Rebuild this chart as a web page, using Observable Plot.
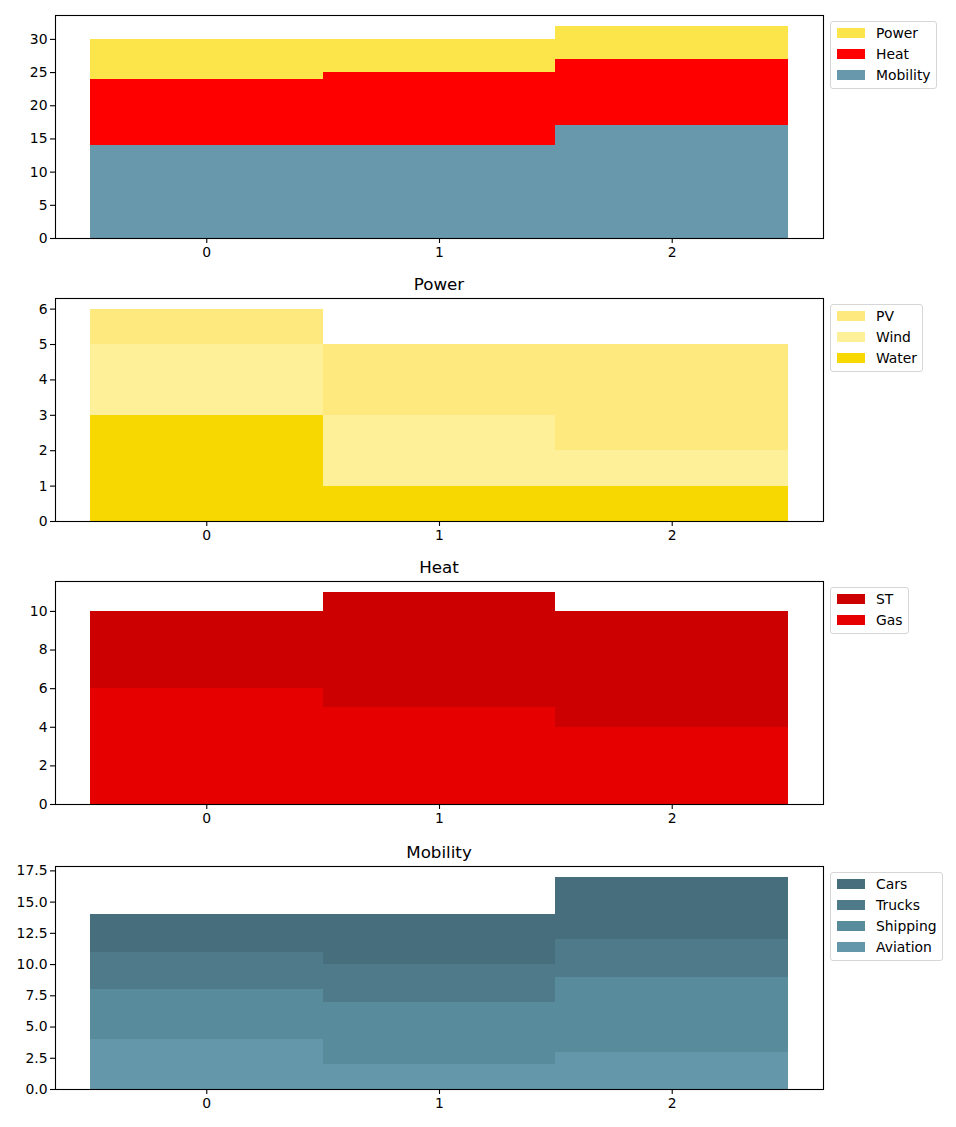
<!DOCTYPE html>
<html><head><meta charset="utf-8">
<script src="https://cdn.jsdelivr.net/npm/d3@7"></script>
<script src="https://cdn.jsdelivr.net/npm/@observablehq/plot@0.6"></script>
<style>
body{margin:0;background:#fff;font-family:"DejaVu Sans",sans-serif;}
#root{position:relative;width:956px;height:1127px;}
#root svg{position:absolute;left:0;}
.title{position:absolute;left:55px;width:768px;text-align:center;font-size:16.7px;line-height:17px;color:#000;}
.legend{position:absolute;left:830px;border:1px solid #d6d6d6;border-radius:3px;padding:0 5px 3px 6px;font-size:13.9px;background:rgba(255,255,255,0.8);color:#000;}
.row{height:21px;display:flex;align-items:center;white-space:nowrap;}
.sw{width:28px;height:10px;margin-right:11px;flex:none;}
</style></head><body><div id="root"></div>
<script>
// categories (x positions)
const categories = [0, 1, 2];

// Overview panel
const overviewSeries = ["Mobility", "Heat", "Power"];
const overviewColors = ["#6798ab", "#ff0000", "#fce54b"];
const overviewMobility = [14, 14, 17];
const overviewHeat = [10, 11, 10];
const overviewPower = [6, 5, 5];
const overviewTicks = [0, 5, 10, 15, 20, 25, 30];

// Power panel
const powerSeries = ["Water", "Wind", "PV"];
const powerColors = ["#f7d800", "#feef99", "#fde97e"];
const powerWater = [3, 1, 1];
const powerWind = [2, 2, 1];
const powerPV = [1, 2, 3];
const powerTicks = [0, 1, 2, 3, 4, 5, 6];

// Heat panel
const heatSeries = ["Gas", "ST"];
const heatColors = ["#e60000", "#cc0000"];
const heatGas = [6, 5, 4];
const heatST = [4, 6, 6];
const heatTicks = [0, 2, 4, 6, 8, 10];

// Mobility panel
const mobilitySeries = ["Aviation", "Shipping", "Trucks", "Cars"];
const mobilityColors = ["#6597aa", "#588b9c", "#4f7a8a", "#466e7c"];
const mobilityAviation = [4, 2, 3];
const mobilityShipping = [4, 5, 6];
const mobilityTrucks = [3, 3, 3];
const mobilityCars = [3, 4, 5];
const mobilityTicks = [0, 2.5, 5, 7.5, 10, 12.5, 15, 17.5];

const panels = [
  {title: null, series: overviewSeries, colors: overviewColors, values: [overviewMobility, overviewHeat, overviewPower], ticks: overviewTicks, fmt: d => d, top: 0},
  {title: "Power", series: powerSeries, colors: powerColors, values: [powerWater, powerWind, powerPV], ticks: powerTicks, fmt: d => d, top: 283},
  {title: "Heat", series: heatSeries, colors: heatColors, values: [heatGas, heatST], ticks: heatTicks, fmt: d => d, top: 566},
  {title: "Mobility", series: mobilitySeries, colors: mobilityColors, values: [mobilityAviation, mobilityShipping, mobilityTrucks, mobilityCars], ticks: mobilityTicks, fmt: d3.format(".1f"), top: 851}
];

const root = document.getElementById("root");
const W = 956, mTop = 15, axesH = 223, mBottom = 35, mLeft = 55, mRight = 956 - 823;

for (const p of panels) {
  const rows = [];
  p.series.forEach((s, si) => {
    categories.forEach((c, ci) => {
      rows.push({series: s, x1: c - 0.5, x2: c + 0.5, value: p.values[si][ci]});
    });
  });
  const totals = categories.map((c, ci) => d3.sum(p.values, v => v[ci]));
  const ymax = d3.max(totals) * 1.05;
  const chart = Plot.plot({
    width: W,
    height: mTop + axesH + mBottom,
    marginTop: mTop, marginBottom: mBottom, marginLeft: mLeft, marginRight: mRight,
    style: {fontFamily: "DejaVu Sans", fontSize: "13.9px", color: "#000", background: "transparent", overflow: "visible"},
    x: {domain: [-0.65, 2.65]},
    y: {domain: [0, ymax]},
    color: {domain: p.series, range: p.colors},
    marks: [
      Plot.rectY(rows, {x1: "x1", x2: "x2", y: "value", fill: "series", inset: 0, shapeRendering: "crispEdges"}),
      Plot.frame({stroke: "#000", strokeWidth: 1.1}),
      Plot.axisX({ticks: categories, tickFormat: d => d, tickSize: 5, tickPadding: 4, strokeWidth: 1.1, label: null}),
      Plot.axisY({ticks: p.ticks, tickFormat: p.fmt, tickSize: 5, tickPadding: 3, strokeWidth: 1.1, label: null})
    ]
  });
  chart.style.top = p.top + "px";
  root.appendChild(chart);

  if (p.title) {
    const t = document.createElement("div");
    t.className = "title";
    t.textContent = p.title;
    t.style.top = (p.top + mTop - 22) + "px";
    root.appendChild(t);
  }

  const lg = document.createElement("div");
  lg.className = "legend";
  lg.style.top = (p.top + mTop + 6) + "px";
  [...p.series].reverse().forEach((s) => {
    const i = p.series.indexOf(s);
    const r = document.createElement("div");
    r.className = "row";
    const sw = document.createElement("div");
    sw.className = "sw";
    sw.style.background = p.colors[i];
    const tx = document.createElement("span");
    tx.textContent = s;
    r.appendChild(sw); r.appendChild(tx);
    lg.appendChild(r);
  });
  root.appendChild(lg);
}
</script></body></html>
